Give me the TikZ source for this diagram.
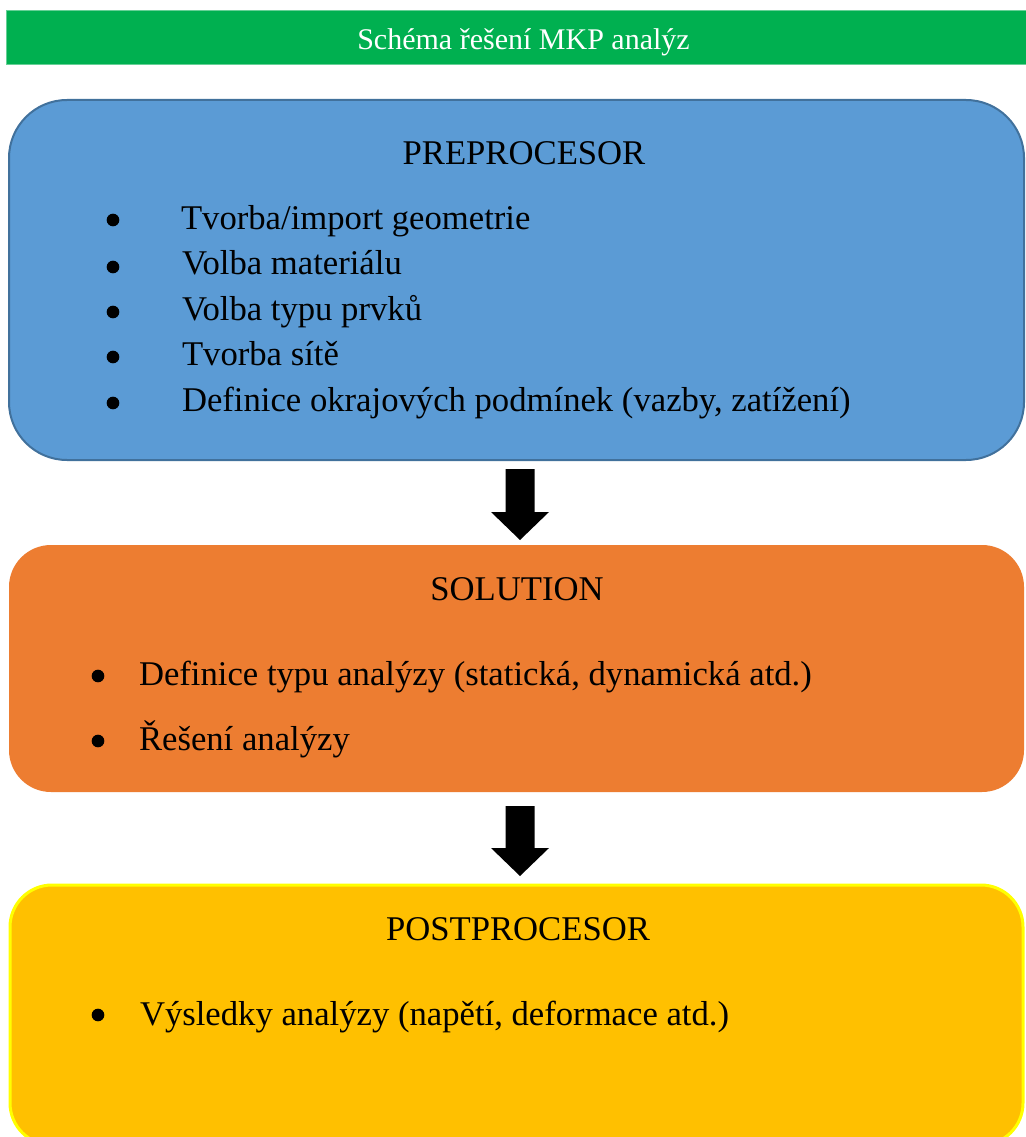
\documentclass[tikz,border=0pt]{standalone}
\usepackage{fontspec}
\setmainfont{Liberation Serif}
\usetikzlibrary{calc}
\definecolor{cgreen}{HTML}{00B050}
\definecolor{cblue}{HTML}{5B9BD5}
\definecolor{cblueedge}{HTML}{41719C}
\definecolor{corange}{HTML}{ED7D31}
\definecolor{cyellow}{HTML}{FFC000}
\definecolor{cyellowedge}{HTML}{FFFF00}
\tikzset{
  box/.style={rectangle, inner sep=0pt, outer sep=0pt},
  txt/.style={inner sep=0pt, outer sep=0pt, font=\fontsize{26pt}{30pt}\selectfont},
  itm/.style={txt, anchor=base west},
  ttl/.style={txt, anchor=base},
  bul/.style={circle, fill=black, inner sep=0pt, minimum size=9.5pt},
  blockarrow/.style={fill=black}
}
\begin{document}
\begin{tikzpicture}[x=0.75pt, y=-0.75pt]
\useasboundingbox (0,0) rectangle (1025,1137);
\fill[white] (0,0) rectangle (1025,1137);
% header bar
\node[box, fill=cgreen, draw=cgreen!60!white, line width=0.75pt, minimum width=768pt, minimum height=40.5pt] (hdr) at (518,38) {};
\node[inner sep=0pt, anchor=base, text=white, font=\fontsize{22.5pt}{26pt}\selectfont] (hdrt) at (523.5,50) {Schéma řešení MKP analýz};
% boxes
\node[box, fill=cblue, draw=cblueedge, line width=1.5pt, rounded corners=43.5pt, minimum width=761.25pt, minimum height=270pt] (pre) at (516.5,280) {};
\node[box, fill=corange, rounded corners=31.5pt, minimum width=761.25pt, minimum height=185.25pt] (sol) at (516.5,668.5) {};
\node[box, fill=cyellow, draw=cyellowedge, line width=2.25pt, rounded corners=31.5pt, minimum width=759.75pt, minimum height=195pt] (post) at (516.5,1015) {};
% PREPROCESOR
\node[ttl] (pret) at (524,164.5) {PREPROCESOR};
\node[bul] (pb1) at (113,220) {};
\node[itm] (pi1) at (181,229.5) {Tvorba/import geometrie};
\node[bul] (pb2) at (113,267) {};
\node[itm] (pi2) at (182,275) {Volba materiálu};
\node[bul] (pb3) at (113,312) {};
\node[itm] (pi3) at (182,320.5) {Volba typu prvků};
\node[bul] (pb4) at (113,357) {};
\node[itm] (pi4) at (182,365.5) {Tvorba sítě};
\node[bul] (pb5) at (113,403) {};
\node[itm] (pi5) at (182,411) {Definice okrajových podmínek (vazby, zatížení)};
% SOLUTION
\node[ttl] (solt) at (517,600) {SOLUTION};
\node[bul] (sb1) at (98,676) {};
\node[itm] (si1) at (139,685) {Definice typu analýzy (statická, dynamická atd.)};
\node[bul] (sb2) at (98,741) {};
\node[itm] (si2) at (139,750) {Řešení analýzy};
% POSTPROCESOR
\node[ttl] (postt) at (518,940) {POSTPROCESOR};
\node[bul] (qb1) at (98,1015) {};
\node[itm] (qi1) at (140,1025) {Výsledky analýzy (napětí, deformace atd.)};
% block arrows
\coordinate (a1s) at ($(pre.south)+(3.5,9)$);
\coordinate (a1e) at ($(sol.north)+(3.5,-5)$);
\fill[blockarrow] ($(a1s)+(-14.5,0)$) -- ($(a1s)+(14.5,0)$) -- ($(a1e)+(14.5,-28)$) -- ($(a1e)+(29,-28)$) -- (a1e) -- ($(a1e)+(-29,-28)$) -- ($(a1e)+(-14.5,-28)$) -- cycle;
\coordinate (a2s) at ($(sol.south)+(3.5,14)$);
\coordinate (a2e) at ($(post.north)+(3.5,-9)$);
\fill[blockarrow] ($(a2s)+(-14.5,0)$) -- ($(a2s)+(14.5,0)$) -- ($(a2e)+(14.5,-28)$) -- ($(a2e)+(29,-28)$) -- (a2e) -- ($(a2e)+(-29,-28)$) -- ($(a2e)+(-14.5,-28)$) -- cycle;
\end{tikzpicture}
\end{document}
